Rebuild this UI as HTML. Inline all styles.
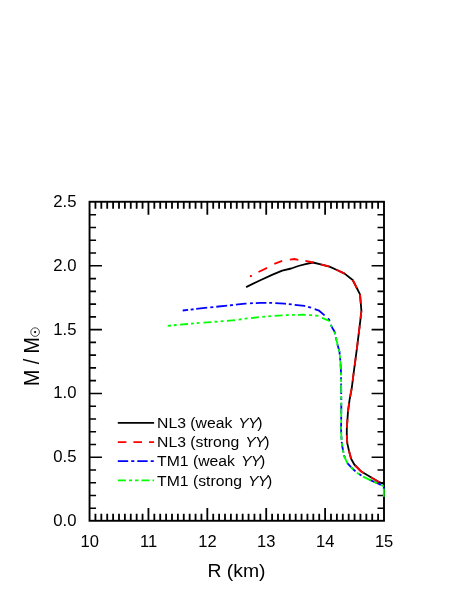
<!DOCTYPE html><html><head><meta charset="utf-8"><style>html,body{margin:0;padding:0;background:#fff}body{width:469px;height:607px;overflow:hidden;font-family:"Liberation Sans",sans-serif}</style></head><body><svg width="469" height="607" viewBox="0 0 469 607" style="display:block;will-change:transform">
<rect width="469" height="607" fill="#fff"/>
<rect x="89.55" y="201.77" width="294.45" height="319.01" fill="none" stroke="#000" stroke-width="1.9"/>
<path d="M95.44,520.78 v-7.0 M95.44,201.77 v7.0 M101.33,520.78 v-7.0 M101.33,201.77 v7.0 M107.22,520.78 v-7.0 M107.22,201.77 v7.0 M113.11,520.78 v-7.0 M113.11,201.77 v7.0 M119.00,520.78 v-7.0 M119.00,201.77 v7.0 M124.88,520.78 v-7.0 M124.88,201.77 v7.0 M130.77,520.78 v-7.0 M130.77,201.77 v7.0 M136.66,520.78 v-7.0 M136.66,201.77 v7.0 M142.55,520.78 v-7.0 M142.55,201.77 v7.0 M148.44,520.78 v-12.9 M148.44,201.77 v12.9 M154.33,520.78 v-7.0 M154.33,201.77 v7.0 M160.22,520.78 v-7.0 M160.22,201.77 v7.0 M166.11,520.78 v-7.0 M166.11,201.77 v7.0 M172.00,520.78 v-7.0 M172.00,201.77 v7.0 M177.88,520.78 v-7.0 M177.88,201.77 v7.0 M183.77,520.78 v-7.0 M183.77,201.77 v7.0 M189.66,520.78 v-7.0 M189.66,201.77 v7.0 M195.55,520.78 v-7.0 M195.55,201.77 v7.0 M201.44,520.78 v-7.0 M201.44,201.77 v7.0 M207.33,520.78 v-12.9 M207.33,201.77 v12.9 M213.22,520.78 v-7.0 M213.22,201.77 v7.0 M219.11,520.78 v-7.0 M219.11,201.77 v7.0 M225.00,520.78 v-7.0 M225.00,201.77 v7.0 M230.89,520.78 v-7.0 M230.89,201.77 v7.0 M236.77,520.78 v-7.0 M236.77,201.77 v7.0 M242.66,520.78 v-7.0 M242.66,201.77 v7.0 M248.55,520.78 v-7.0 M248.55,201.77 v7.0 M254.44,520.78 v-7.0 M254.44,201.77 v7.0 M260.33,520.78 v-7.0 M260.33,201.77 v7.0 M266.22,520.78 v-12.9 M266.22,201.77 v12.9 M272.11,520.78 v-7.0 M272.11,201.77 v7.0 M278.00,520.78 v-7.0 M278.00,201.77 v7.0 M283.89,520.78 v-7.0 M283.89,201.77 v7.0 M289.78,520.78 v-7.0 M289.78,201.77 v7.0 M295.67,520.78 v-7.0 M295.67,201.77 v7.0 M301.55,520.78 v-7.0 M301.55,201.77 v7.0 M307.44,520.78 v-7.0 M307.44,201.77 v7.0 M313.33,520.78 v-7.0 M313.33,201.77 v7.0 M319.22,520.78 v-7.0 M319.22,201.77 v7.0 M325.11,520.78 v-12.9 M325.11,201.77 v12.9 M331.00,520.78 v-7.0 M331.00,201.77 v7.0 M336.89,520.78 v-7.0 M336.89,201.77 v7.0 M342.78,520.78 v-7.0 M342.78,201.77 v7.0 M348.67,520.78 v-7.0 M348.67,201.77 v7.0 M354.56,520.78 v-7.0 M354.56,201.77 v7.0 M360.44,520.78 v-7.0 M360.44,201.77 v7.0 M366.33,520.78 v-7.0 M366.33,201.77 v7.0 M372.22,520.78 v-7.0 M372.22,201.77 v7.0 M378.11,520.78 v-7.0 M378.11,201.77 v7.0" stroke="#000" stroke-width="1.8" fill="none"/>
<path d="M89.55,508.27 h6.5 M384.0,508.27 h-6.5 M89.55,495.51 h6.5 M384.0,495.51 h-6.5 M89.55,482.75 h6.5 M384.0,482.75 h-6.5 M89.55,469.99 h6.5 M384.0,469.99 h-6.5 M89.55,457.23 h12.4 M384.0,457.23 h-12.4 M89.55,444.47 h6.5 M384.0,444.47 h-6.5 M89.55,431.71 h6.5 M384.0,431.71 h-6.5 M89.55,418.95 h6.5 M384.0,418.95 h-6.5 M89.55,406.19 h6.5 M384.0,406.19 h-6.5 M89.55,393.43 h12.4 M384.0,393.43 h-12.4 M89.55,380.67 h6.5 M384.0,380.67 h-6.5 M89.55,367.91 h6.5 M384.0,367.91 h-6.5 M89.55,355.14 h6.5 M384.0,355.14 h-6.5 M89.55,342.38 h6.5 M384.0,342.38 h-6.5 M89.55,329.62 h12.4 M384.0,329.62 h-12.4 M89.55,316.86 h6.5 M384.0,316.86 h-6.5 M89.55,304.10 h6.5 M384.0,304.10 h-6.5 M89.55,291.34 h6.5 M384.0,291.34 h-6.5 M89.55,278.58 h6.5 M384.0,278.58 h-6.5 M89.55,265.82 h12.4 M384.0,265.82 h-12.4 M89.55,253.06 h6.5 M384.0,253.06 h-6.5 M89.55,240.30 h6.5 M384.0,240.30 h-6.5 M89.55,227.54 h6.5 M384.0,227.54 h-6.5 M89.55,214.78 h6.5 M384.0,214.78 h-6.5" stroke="#000" stroke-width="1.6" fill="none"/>
<path d="M246.10,287.10 L259.20,280.70 L272.00,274.90 L282.20,270.60 L291.20,268.50 L298.30,266.00 L305.50,264.20 L313.00,262.50 L320.70,264.30 L329.50,266.60 L336.40,269.80 L344.60,273.60 L352.70,280.00 L356.80,288.00 L360.00,294.40 L360.80,303.50 L361.40,311.00 L360.90,315.00 L360.50,319.10 L357.10,347.10 L353.40,375.00 L351.80,387.80 L349.60,399.60 L348.00,411.40 L347.20,423.20 L346.80,429.50 L346.80,435.00 L347.30,443.40 L348.90,450.50 L351.10,458.80 L354.30,464.50 L361.30,471.60 L370.90,477.30 L379.30,482.20 L384.00,484.00" fill="none" stroke="#000" stroke-width="1.8" stroke-linejoin="round"/>
<path d="M258.50,272.00 L258.50,272.00 L267.10,267.90 M274.30,263.80 L274.30,263.80 L282.20,260.90 M289.90,259.60 L294.40,259.00 L298.30,259.80 M305.40,260.90 L313.00,262.50 L313.47,262.61 M320.70,264.30 L329.50,266.60 M336.40,269.80 L344.60,273.60 M352.70,280.00 L356.80,288.00 M360.00,294.40 L360.80,303.50 M361.40,311.00 L360.90,315.00 L360.52,318.90 M359.75,325.28 L358.60,334.71 M357.82,341.17 L357.10,347.10 L356.74,349.85 M355.75,357.28 L354.60,365.96 M353.68,372.90 L353.40,375.00 L352.61,381.33 M351.67,388.52 L350.11,396.87 M349.10,403.29 L348.00,411.40 L347.96,411.97 M347.49,418.95 L347.20,423.20 L346.90,427.93 M346.80,435.00 L347.30,443.40 M348.90,450.50 L351.10,458.80 M355.04,465.26 L361.30,471.60 L363.62,472.97 M370.90,477.30 L379.30,482.20" fill="none" stroke="#f00" stroke-width="1.8" stroke-linejoin="round"/>
<rect x="249.9" y="275.1" width="2" height="2" fill="#f00"/>
<path d="M182.70,310.50 L188.10,309.89 M190.70,309.59 L193.60,309.26 M196.20,308.97 L207.20,307.72 M210.30,307.37 L213.30,307.06 M216.30,306.74 L227.20,305.61 M229.90,305.33 L232.90,305.02 M235.90,304.69 L245.20,303.60 L246.50,303.53 M250.00,303.35 L252.90,303.20 M255.80,303.05 L260.60,302.80 L266.40,302.80 M269.20,302.80 L270.80,302.80 L272.10,302.88 M275.30,303.06 L284.50,303.60 L286.00,303.78 M288.80,304.11 L291.70,304.45 M294.70,304.80 L304.60,305.90 L305.20,306.06 M308.10,306.84 L310.90,307.60 L311.10,307.68 M314.70,309.20 L319.10,310.70 L324.60,315.40 M328.00,318.40 L329.90,320.90 M330.73,324.80 L330.80,325.00 L332.50,328.20 L334.40,331.30 L335.30,334.30 M335.80,337.30 L336.51,340.30 M337.40,344.10 L337.80,345.80 L338.70,348.80 L339.50,352.00 L339.76,354.60 M340.04,357.50 L340.31,360.70 M340.55,363.80 L340.90,370.00 L340.99,374.30 M341.04,377.20 L341.10,380.00 L341.10,380.40 M341.13,383.50 L341.22,394.00 M341.25,396.90 L341.27,400.10 M341.30,403.20 L341.24,413.70 M341.22,416.60 L341.20,419.80 M341.17,422.90 L341.10,430.00 L341.25,433.40 M341.37,436.30 L341.40,437.00 L341.56,439.50 M341.70,441.80 L342.20,446.00 L343.00,450.00 L343.44,452.30 M344.00,455.20 L344.10,455.70 L345.09,458.20 M347.39,463.00 L347.60,463.40 L350.80,466.90 L353.40,469.50 L355.48,471.40 M359.01,474.00 L359.50,474.30 L361.42,475.60 M369.22,479.60 L370.90,480.40 L377.30,483.30 L380.89,484.90 M383.35,486.00 L383.80,486.20 M383.8,486.2 V489" fill="none" stroke="#00f" stroke-width="1.8" stroke-linejoin="round"/>
<path d="M167.70,325.80 L171.00,325.50 M173.70,325.26 L176.60,325.00 M180.10,324.69 L188.00,323.98 M191.00,323.71 L193.80,323.46 M196.70,323.20 L199.60,322.94 M203.50,322.63 L211.30,322.03 M214.60,321.77 L217.50,321.55 M220.60,321.31 L223.50,321.09 M226.90,320.82 L235.00,320.20 M238.60,319.67 L241.50,319.24 M244.70,318.77 L245.20,318.70 L247.60,318.44 M251.00,318.06 L258.90,317.19 M262.30,316.86 L265.20,316.62 M268.30,316.37 L271.20,316.13 M274.60,315.85 L277.60,315.60 L282.60,315.34 M285.80,315.18 L288.70,315.03 M292.00,314.89 L294.90,314.84 M298.00,314.79 L303.20,314.70 L305.70,314.85 M309.00,315.04 L311.80,315.20 L312.00,315.22 M315.20,315.50 L318.40,315.78 M322.00,317.80 L329.30,320.80 M330.76,324.90 L330.80,325.00 L331.92,327.10 M334.43,331.40 L335.30,334.30 M335.80,337.30 L336.80,341.50 L337.75,345.60 M338.67,348.70 L338.70,348.80 L339.50,352.00 M339.81,355.10 L340.00,357.00 L340.11,358.30 M340.32,360.90 L340.50,363.00 L340.85,369.20 M340.95,372.30 L341.01,375.60 M341.07,378.70 L341.10,380.00 L341.12,381.90 M341.14,384.70 L341.21,393.00 M341.24,396.10 L341.27,399.40 M341.30,402.50 L341.30,403.00 L341.28,405.70 M341.27,408.40 L341.22,416.70 M341.20,419.80 L341.20,420.00 L341.17,423.10 M341.14,426.20 L341.11,429.40 M341.18,431.80 L341.40,437.00 L341.59,440.10 M341.87,443.20 L342.20,446.00 L342.30,446.50 M342.92,449.60 L343.00,450.00 L343.54,452.80 M344.10,455.70 L345.60,459.50 L347.60,463.40 M350.80,466.90 L353.40,469.50 M356.90,472.70 L359.50,474.30 M362.90,476.60 L370.90,480.40 M373.99,481.80 L377.30,483.30 M380.89,484.90 L383.80,486.20 M383.8,488.4 V496.8" fill="none" stroke="#0f0" stroke-width="1.8" stroke-linejoin="round"/>
<g font-family="Liberation Sans, sans-serif" font-size="16" fill="#000">
<text transform="translate(76.5,525.98) scale(1.045,1)" text-anchor="end">0.0</text>
<text transform="translate(76.5,462.18) scale(1.045,1)" text-anchor="end">0.5</text>
<text transform="translate(76.5,398.38) scale(1.045,1)" text-anchor="end">1.0</text>
<text transform="translate(76.5,334.57) scale(1.045,1)" text-anchor="end">1.5</text>
<text transform="translate(76.5,270.77) scale(1.045,1)" text-anchor="end">2.0</text>
<text transform="translate(76.5,206.97) scale(1.045,1)" text-anchor="end">2.5</text>
<text transform="translate(89.65,547.2) scale(1.035,1)" text-anchor="middle">10</text>
<text transform="translate(148.54,547.2) scale(1.035,1)" text-anchor="middle">11</text>
<text transform="translate(207.43,547.2) scale(1.035,1)" text-anchor="middle">12</text>
<text transform="translate(266.32,547.2) scale(1.035,1)" text-anchor="middle">13</text>
<text transform="translate(325.21,547.2) scale(1.035,1)" text-anchor="middle">14</text>
<text transform="translate(384.10,547.2) scale(1.035,1)" text-anchor="middle">15</text>
</g>
<g font-family="Liberation Sans, sans-serif" font-size="19.5" fill="#000">
<text transform="translate(236.5,577) scale(1.015,1)" text-anchor="middle" font-size="19.1">R (km)</text>
<text transform="translate(39.0,386.0) rotate(-90) scale(1,1.12)" font-size="19.5">M / M</text>
</g>
<circle cx="35.1" cy="332.1" r="4.3" fill="none" stroke="#000" stroke-width="0.7"/><circle cx="35.1" cy="332.1" r="1.1" fill="#000"/>
<path d="M117.8,422.9 H154.1" stroke="#000" stroke-width="1.8"/>
<path d="M117.8,442.1 H154.1" stroke="#f00" stroke-width="1.8" stroke-dasharray="8.6 7"/>
<path d="M117.8,461.2 H154.1" stroke="#00f" stroke-width="1.8" stroke-dasharray="10.4 3 3.1 3"/>
<path d="M117.8,480.4 H154.1" stroke="#0f0" stroke-width="1.8" stroke-dasharray="8.1 3 3.1 3 3.4 3"/>
<g font-family="Liberation Sans, sans-serif" font-size="15" fill="#000">
<text transform="translate(157.1,428.00) scale(1.05,1)" xml:space="preserve">NL3 (weak <tspan font-style="italic" dx="1.6">Y</tspan><tspan font-style="italic" dx="-0.7">Y</tspan><tspan dx="-1.2">)</tspan></text>
<text transform="translate(157.1,447.20) scale(1.05,1)" xml:space="preserve">NL3 (strong <tspan font-style="italic" dx="1.6">Y</tspan><tspan font-style="italic" dx="-0.7">Y</tspan><tspan dx="-1.2">)</tspan></text>
<text transform="translate(157.1,466.30) scale(1.05,1)" xml:space="preserve">TM1 (weak <tspan font-style="italic" dx="1.6">Y</tspan><tspan font-style="italic" dx="-0.7">Y</tspan><tspan dx="-1.2">)</tspan></text>
<text transform="translate(157.1,485.50) scale(1.05,1)" xml:space="preserve">TM1 (strong <tspan font-style="italic" dx="1.6">Y</tspan><tspan font-style="italic" dx="-0.7">Y</tspan><tspan dx="-1.2">)</tspan></text>
</g>
</svg></body></html>
